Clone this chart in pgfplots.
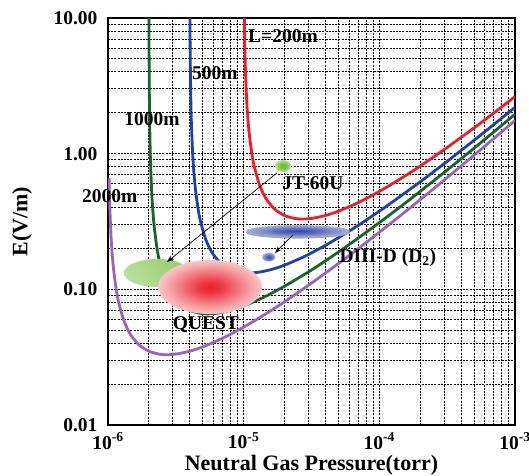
\documentclass[border=0pt]{standalone}
\usepackage{pgfplots}
\pgfplotsset{compat=1.18}
\usepackage{fontspec}
\setmainfont{Liberation Serif}
\usetikzlibrary{arrows.meta}
\definecolor{cred}{RGB}{236,30,40}
\definecolor{cblue}{RGB}{30,65,170}
\definecolor{cgreen}{RGB}{25,100,45}
\definecolor{cpurple}{RGB}{150,100,185}
\definecolor{bgreen}{RGB}{105,185,40}
\definecolor{bblue}{RGB}{45,70,175}
\pgfdeclareradialshading{blobred}{\pgfpoint{0bp}{0bp}}{color(0bp)=(cred); color(5bp)=(cred!90!white); color(20bp)=(cred!40!white); color(34bp)=(white); color(50bp)=(white)}
\pgfdeclareradialshading{blobgreen}{\pgfpoint{0bp}{0bp}}{color(0bp)=(bgreen); color(12bp)=(bgreen!85!white); color(26bp)=(bgreen!40!white); color(38bp)=(white); color(50bp)=(white)}
\pgfdeclareradialshading{blobblue}{\pgfpoint{0bp}{0bp}}{color(0bp)=(bblue); color(10bp)=(bblue!80!white); color(38bp)=(white!85!gray); color(50bp)=(gray!60!white)}
\newcommand\tf{\fontsize{19.5bp}{22bp}\selectfont\bfseries}
\newcommand\lf{\fontsize{22bp}{25bp}\selectfont\bfseries}
\begin{document}
\begin{tikzpicture}
\begin{axis}[name=ax, scale only axis, width=407bp, height=407bp,
  xmode=log, ymode=log, xmin=1e-6, xmax=1e-3, ymin=0.01, ymax=10,
  clip mode=individual,
  grid=both,
  major grid style={black, line width=1bp, dash pattern=on 2bp off 1.2bp},
  minor grid style={black, line width=1bp, dash pattern=on 2bp off 1.2bp},
  major tick length=0pt, minor tick length=0pt,
  axis line style={black, line width=1.5bp},
  xtick={1e-6,1e-5,1e-4,1e-3},
  xticklabels={10\textsuperscript{-6},10\textsuperscript{-5},10\textsuperscript{-4},10\textsuperscript{-3}},
  ytick={0.01,0.1,1,10},
  yticklabels={0.01,0.10,1.00,10.00},
  tick label style={font=\tf},
  xticklabel style={yshift=-4bp},
  yticklabel style={xshift=-7bp},
  xlabel={Neutral Gas Pressure(torr)},
  ylabel={E(V/m)},
  label style={font=\lf},
  xlabel style={at={(axis description cs:0.5,-0.113)}, anchor=base},
  ylabel style={at={(axis description cs:-0.211,0.5)}, anchor=center},
]
% L = 200 m
\addplot[cred, line width=2.8bp, smooth] coordinates {
(1.01e-5,12.31) (1.02e-5,6.247) (1.03e-5,4.227) (1.05e-5,2.610) (1.07e-5,1.918)
(1.1e-5,1.400) (1.15e-5,0.998) (1.2e-5,0.798) (1.3e-5,0.601) (1.4e-5,0.5047)
(1.5e-5,0.4488) (1.7e-5,0.3887) (2.0e-5,0.3500) (2.4e-5,0.3325) (2.718e-5,0.3297)
(3.2e-5,0.3337) (4e-5,0.3500) (5e-5,0.3769) (7e-5,0.4363) (1e-4,0.5268)
(1.5e-4,0.6719) (2e-4,0.8098) (3e-4,1.0699) (5e-4,1.5503) (7e-4,1.9985) (1e-3,2.634)};
% L = 500 m
\addplot[cblue, line width=2.8bp, smooth] coordinates {
(4.016e-6,12.20) (4.02e-6,9.777) (4.04e-6,4.925) (4.08e-6,2.499) (4.12e-6,1.691)
(4.2e-6,1.044) (4.28e-6,0.7671) (4.4e-6,0.5599) (4.6e-6,0.3992) (4.8e-6,0.3194)
(5.2e-6,0.2404) (5.6e-6,0.2019) (6.0e-6,0.1795) (6.8e-6,0.1555) (8e-6,0.1400)
(9.6e-6,0.1330) (1.087e-5,0.1319) (1.28e-5,0.1335) (1.6e-5,0.1400) (2e-5,0.1508)
(2.8e-5,0.1745) (4e-5,0.2107) (6e-5,0.2688) (8e-5,0.3239) (1.2e-4,0.4279)
(2e-4,0.6201) (2.8e-4,0.7995) (4e-4,1.0536) (6e-4,1.4524) (8e-4,1.8315) (1e-3,2.197)};
% L = 1000 m
\addplot[cgreen, line width=2.8bp, smooth] coordinates {
(2.004e-6,12.17) (2.01e-6,4.888) (2.02e-6,2.462) (2.04e-6,1.249) (2.06e-6,0.8455)
(2.1e-6,0.5221) (2.14e-6,0.3836) (2.2e-6,0.2800) (2.3e-6,0.1996) (2.4e-6,0.1597)
(2.6e-6,0.1202) (2.8e-6,0.1009) (3.0e-6,0.08976) (3.4e-6,0.07773) (4e-6,0.06999)
(4.8e-6,0.06650) (5.44e-6,0.06594) (6.4e-6,0.06674) (8e-6,0.06999) (1e-5,0.07538)
(1.4e-5,0.08726) (2e-5,0.1054) (3e-5,0.1344) (4e-5,0.1619) (6e-5,0.2140)
(1e-4,0.3101) (1.4e-4,0.3997) (2e-4,0.5268) (3e-4,0.7262) (4e-4,0.9158)
(5e-4,1.0985) (6e-4,1.276) (8e-4,1.6197) (1e-3,1.952)};
% L = 2000 m
\addplot[cpurple, line width=2.8bp, smooth] coordinates {
(1.019e-6,0.657) (1.03e-6,0.4227) (1.05e-6,0.2610) (1.07e-6,0.1918) (1.1e-6,0.1400)
(1.15e-6,0.0998) (1.2e-6,0.0798) (1.3e-6,0.0601) (1.4e-6,0.05047) (1.5e-6,0.04488)
(1.7e-6,0.03887) (2e-6,0.0350) (2.4e-6,0.03325) (2.718e-6,0.03297) (3.2e-6,0.03337)
(4e-6,0.0350) (5e-6,0.03769) (7e-6,0.04363) (1e-5,0.05268) (1.5e-5,0.06719)
(2e-5,0.08098) (3e-5,0.10699) (5e-5,0.15503) (7e-5,0.19985) (1e-4,0.2634)
(1.5e-4,0.3631) (2e-4,0.4579) (3e-4,0.6380) (5e-4,0.9759) (7e-4,1.2961) (1e-3,1.756)};
% blobs
\shade[shading=blobgreen] (axis cs:2.30e-6,0.132) ellipse [x radius=33bp, y radius=14bp];
\shade[shading=blobred] (axis cs:5.65e-6,0.104) ellipse [x radius=52bp, y radius=27bp];
\shade[shading=blobgreen] (axis cs:1.95e-5,0.812) ellipse [x radius=8bp, y radius=6bp];
\fill[gray!70] ([yshift=-1.5bp]axis cs:2.51e-5,0.269) ellipse [x radius=52bp, y radius=6bp];
\shade[shading=blobblue] (axis cs:2.51e-5,0.269) ellipse [x radius=52bp, y radius=6bp];
\shade[shading=blobblue] (axis cs:1.53e-5,0.173) ellipse [x radius=6.5bp, y radius=4.5bp];
% arrows
\draw[-{Stealth[length=7bp,width=5bp]}, line width=0.7bp] (axis cs:1.76e-5,0.721) -- (axis cs:2.72e-6,0.159);
\draw[-{Stealth[length=7bp,width=5bp]}, line width=0.7bp] (axis cs:2.31e-5,0.252) -- (axis cs:1.70e-5,0.185);
% labels
\node[font=\tf] at (axis cs:1.95e-5,7.36) {L=200m};
\node[font=\tf] at (axis cs:6.14e-6,3.93) {500m};
\node[font=\tf] at (axis cs:2.11e-6,1.80) {1000m};
\node[font=\tf] at (axis cs:1.03e-6,0.488) {2000m};
\node[font=\tf] at (axis cs:3.24e-5,0.608) {JT-60U};
\node[font=\tf] at (axis cs:5.27e-6,0.0547) {QUEST};
\node[font=\tf] at (axis cs:1.156e-4,0.1703) {DIII-D (D\textsubscript{2})};
\end{axis}
\pgfresetboundingbox
\path[use as bounding box] ([shift={(-108bp,-51bp)}]ax.south west) rectangle ([shift={(14bp,18bp)}]ax.north east);
\end{tikzpicture}
\end{document}
